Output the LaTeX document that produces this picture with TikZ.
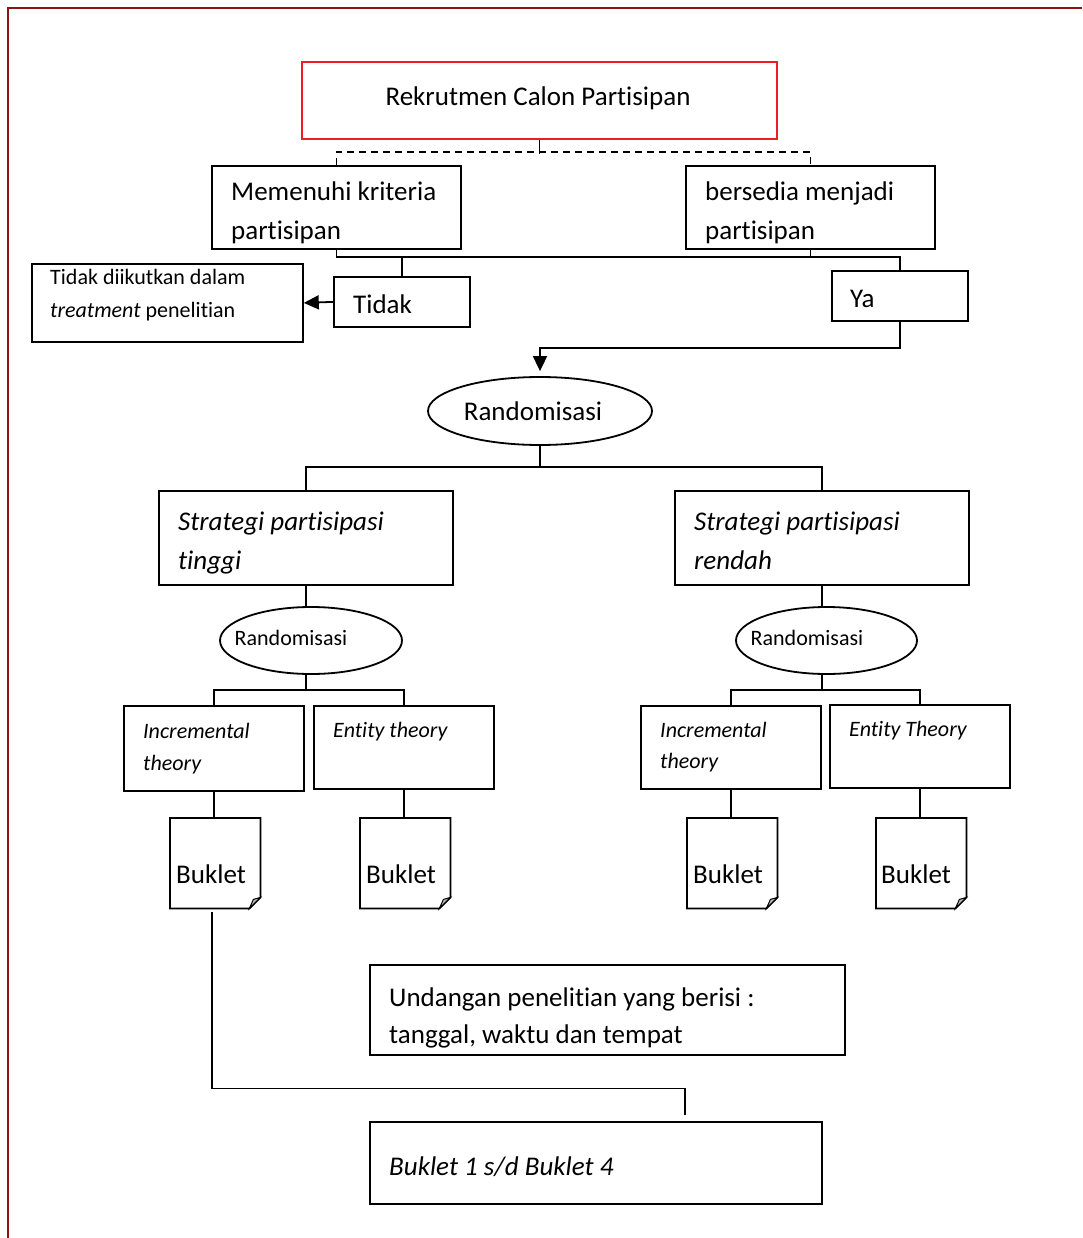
\documentclass[tikz,border=0pt]{standalone}
\usepackage{fontspec}
\setmainfont[Ligatures=NoCommon,RawFeature={-liga;-clig;-calt;-dlig}]{Carlito}
\usetikzlibrary{arrows.meta,shapes.geometric,calc}
\definecolor{brd}{HTML}{8B1414}
\definecolor{redbox}{HTML}{EE1C24}
\tikzset{
  bx/.style={draw, line width=1.8pt, inner sep=0pt, anchor=north west},
  ln/.style={line width=1.8pt},
  ell/.style={draw, ellipse, line width=1.8pt, inner sep=0pt},
  big/.style={inner sep=0pt, anchor=base west, font=\fontsize{27}{33}\selectfont},
  small/.style={inner sep=0pt, anchor=base west, font=\fontsize{22}{27}\selectfont},
  arr/.style={-{Triangle[length=15pt,width=14pt]}}
}
\newcommand\bukletbox[3]{%
  \node[inner sep=0pt, minimum width=90pt, minimum height=90pt, anchor=north west] (#1) at (#2,#3) {};
  \draw[ln, line join=miter] (#1.north west) -- (#1.north east) -- ([yshift=11pt]#1.south east)
     -- ([xshift=-11pt]#1.south east) -- (#1.south west) -- cycle;
  \filldraw[fill=gray!55, line width=1pt] ([yshift=11pt]#1.south east) -- ([xshift=-11pt]#1.south east)
     -- ([xshift=-7pt,yshift=9pt]#1.south east) -- cycle;
}
\begin{document}
\begin{tikzpicture}[x=1pt,y=-1pt]
\useasboundingbox (0,0) rectangle (1082,1238);
\draw[brd, line width=2.5pt] (1082,8) -- (8,8) -- (8,1238);

% boxes
\node[bx, draw=redbox, minimum width=475pt, minimum height=77pt] (rek) at (301,61) {};
\node[bx, minimum width=249pt, minimum height=83pt] (mem) at (211,165) {};
\node[bx, minimum width=249pt, minimum height=83pt] (bers) at (685,165) {};
\node[bx, minimum width=271pt, minimum height=78pt] (tdk) at (31,263) {};
\node[bx, minimum width=136pt, minimum height=50pt] (tidak) at (333,276) {};
\node[bx, minimum width=136pt, minimum height=50pt] (ya) at (831,270) {};
\node[ell, minimum width=224pt, minimum height=68pt] (r0) at (540,411) {};
\node[bx, minimum width=294pt, minimum height=94pt] (st1) at (158,490) {};
\node[bx, minimum width=294pt, minimum height=94pt] (st2) at (674,490) {};
\node[ell, minimum width=182pt, minimum height=67pt] (r1) at (311,640.5) {};
\node[ell, minimum width=181pt, minimum height=67pt] (r2) at (826.5,640.5) {};
\node[bx, minimum width=180pt, minimum height=85pt] (inc1) at (123,705) {};
\node[bx, minimum width=180pt, minimum height=83pt] (ent1) at (313,705) {};
\node[bx, minimum width=180pt, minimum height=83pt] (inc2) at (640,705) {};
\node[bx, minimum width=180pt, minimum height=83pt] (ent2) at (829,704) {};
\bukletbox{b1}{170}{818}
\bukletbox{b2}{360}{818}
\bukletbox{b3}{687}{818}
\bukletbox{b4}{876}{818}
\node[bx, minimum width=475pt, minimum height=90pt] (und) at (369,964) {};
\node[bx, minimum width=452pt, minimum height=82pt] (bk) at (369,1121) {};
\coordinate (bkin) at (685,1121);

% texts
\node[big, anchor=base] (rekt) at (538,106) {Rekrutmen Calon Partisipan};
\node[big] (memt1) at (231,201) {Memenuhi kriteria};
\node[big] (memt2) at (231,240) {partisipan};
\node[big] (berst1) at (705,201) {bersedia menjadi};
\node[big] (berst2) at (705,240) {partisipan};
\node[small] (tdkt1) at (50,285) {Tidak diikutkan dalam};
\node[small] (tdkt2) at (50,317) {\textit{treatment} penelitian};
\node[big] (tidakt) at (353,313) {Tidak};
\node[big] (yat) at (850,307) {Ya};
\node[big, anchor=base] (r0t) at (533,420) {Randomisasi};
\node[big, font=\fontsize{27}{33}\selectfont\itshape] (st1t1) at (178,530) {Strategi partisipasi};
\node[big, font=\fontsize{27}{33}\selectfont\itshape] (st1t2) at (178,569) {tinggi};
\node[big, font=\fontsize{27}{33}\selectfont\itshape] (st2t1) at (694,530) {Strategi partisipasi};
\node[big, font=\fontsize{27}{33}\selectfont\itshape] (st2t2) at (694,569) {rendah};
\node[small, anchor=base] (r1t) at (291,645) {Randomisasi};
\node[small, anchor=base] (r2t) at (807,645) {Randomisasi};
\node[small, font=\fontsize{22}{27}\selectfont\itshape] (inc1t1) at (143,738) {Incremental};
\node[small, font=\fontsize{22}{27}\selectfont\itshape] (inc1t2) at (143,770) {theory};
\node[small, font=\fontsize{22}{27}\selectfont\itshape] (ent1t) at (333,737) {Entity theory};
\node[small, font=\fontsize{22}{27}\selectfont\itshape] (inc2t1) at (660,737) {Incremental};
\node[small, font=\fontsize{22}{27}\selectfont\itshape] (inc2t2) at (660,768) {theory};
\node[small, font=\fontsize{22}{27}\selectfont\itshape] (ent2t) at (849,736) {Entity Theory};
\node[big] (b1t) at (176,883) {Buklet};
\node[big] (b2t) at (366,883) {Buklet};
\node[big] (b3t) at (693,883) {Buklet};
\node[big] (b4t) at (881,883) {Buklet};
\node[big] (undt1) at (389,1006) {Undangan penelitian yang berisi :};
\node[big] (undt2) at (389,1043) {tanggal, waktu dan tempat};
\node[big, font=\fontsize{27}{33}\selectfont\itshape] (bkt) at (389,1175) {Buklet 1 s/d Buklet 4};

% connectors
\coordinate (hl) at (0,257);
\draw[ln] (rek.south) -- ++(0,14);
\draw[line width=1.5pt, dash pattern=on 7pt off 5pt] (mem.north) -- ++(0,-13) -| (bers.north);
\draw[ln] (mem.south) -- (mem.south |- hl) -| (ya.north);
\draw[ln] (bers.south) -- (bers.south |- hl);
\draw[ln] (tidak.north) -- (tidak.north |- hl);
\draw[ln, arr] (tidak.west) -- (tdk.east);
\draw[ln, arr, shorten >=5pt] (ya.south) -- ++(0,26) -| (r0.north);
\draw[ln] (r0.south) -- ++(0,22);
\draw[ln] (st1.north) -- ++(0,-23) -| (st2.north);
\draw[ln] (st1.south) -- (st1.south |- r1.north);
\draw[ln] (st2.south) -- (st2.south |- r2.north);
\draw[ln] (st1.south |- r1.south) -- ++(0,16);
\draw[ln] (st2.south |- r2.south) -- ++(0,16);
\draw[ln] (inc1.north) -- ++(0,-15) -| (ent1.north);
\draw[ln] (inc2.north) -- ++(0,-15) -| (ent2.north);
\draw[ln] (inc1.south) -- (inc1.south |- b1.north);
\draw[ln] (ent1.south) -- (ent1.south |- b2.north);
\draw[ln] (inc2.south) -- (inc2.south |- b3.north);
\draw[ln] (ent2.south) -- (ent2.south |- b4.north);
\draw[ln] ([xshift=-3pt,yshift=-4pt]b1.south) -- ++(0,176) -| ([yshift=6pt]bkin);
\end{tikzpicture}
\end{document}
